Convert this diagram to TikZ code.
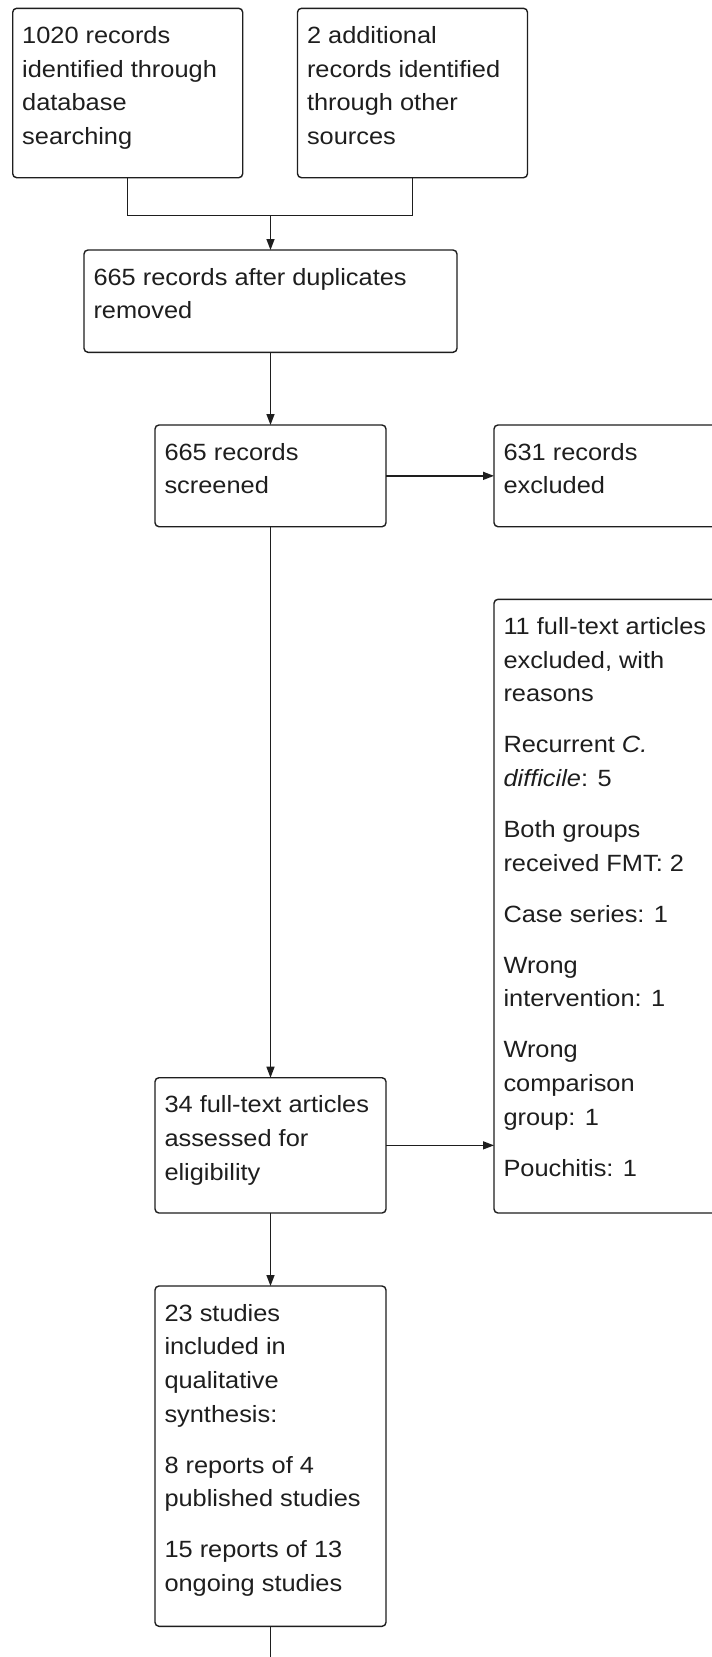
\documentclass[tikz,border=0pt]{standalone}
\usepackage{fontspec}
\setmainfont{Liberation Sans}[FakeStretch=1.08]
\usetikzlibrary{arrows.meta}
\newcommand\boxtxt[3]{\begin{minipage}[t][#2][t]{#1}\fontsize{23.5pt}{33.7pt}\selectfont\raggedright\setlength{\parskip}{17.3pt}\setlength{\parindent}{0pt}\rule{0pt}{35pt}#3\end{minipage}}
\definecolor{inkgray}{HTML}{1E1E1E}
\tikzset{
  flowbox/.style={draw=inkgray, line width=1.4pt, rounded corners=4pt, inner xsep=9.5pt, inner ysep=0pt, outer sep=0pt, anchor=north west, text=inkgray},
  conn/.style={draw=inkgray, line width=1.4pt},
  arr/.style={conn, -{Triangle[length=11pt,width=8pt]}}
}
\begin{document}
\begin{tikzpicture}[x=1pt,y=-1pt]
\useasboundingbox (0,0) rectangle (712,1657);
\clip (0,0) rectangle (712,1657);
\fill[white] (0,0) rectangle (712,1657);
% boxes
\node[flowbox] (b1) at (12.7,8.3) {\boxtxt{211pt}{169.4pt}{1020 records\\identified through\\database\\searching}};
\node[flowbox] (b2) at (297.5,8.3) {\boxtxt{211pt}{169.4pt}{2 additional\\records identified\\through other\\sources}};
\node[flowbox] (b3) at (84,250) {\boxtxt{354pt}{102.3pt}{665 records after duplicates\\removed}};
\node[flowbox] (b4) at (155,425) {\boxtxt{212pt}{101.7pt}{665 records\\screened}};
\node[flowbox] (b5) at (494,425) {\boxtxt{230pt}{101.7pt}{631 records\\excluded}};
\node[flowbox] (b6) at (494,599.3) {\boxtxt{230pt}{613.7pt}{11 full-text articles\\excluded, with\\reasons\par
Recurrent \textit{C.}\\\textit{difficile}: 5\par
Both groups\\received FMT: 2\par
Case series: 1\par
Wrong\\intervention: 1\par
Wrong\\comparison\\group: 1\par
Pouchitis: 1}};
\node[flowbox] (b7) at (155,1077.7) {\boxtxt{212pt}{135.3pt}{34 full-text articles\\assessed for\\eligibility}};
\node[flowbox] (b8) at (155,1286) {\boxtxt{212pt}{340.3pt}{23 studies\\included in\\qualitative\\synthesis:\par
8 reports of 4\\published studies\par
15 reports of 13\\ongoing studies}};
% connectors
\coordinate (j) at (270.5,215.3);
\coordinate (bottomend) at (270.5,1665);
\draw[conn] (b1.south) |- (j) -| (b2.south);
\draw[arr] (j) -- (j |- b3.north);
\draw[arr] (b3.south) -- (b4.north);
\draw[arr] (b4.east) -- (b4.east -| b5.west);
\draw[arr] (b4.south) -- (b7.north);
\draw[arr] (b7.east) -- (b7.east -| b6.west);
\draw[arr] (b7.south) -- (b8.north);
\draw[conn] (b8.south) -- (bottomend);
\end{tikzpicture}
\end{document}
